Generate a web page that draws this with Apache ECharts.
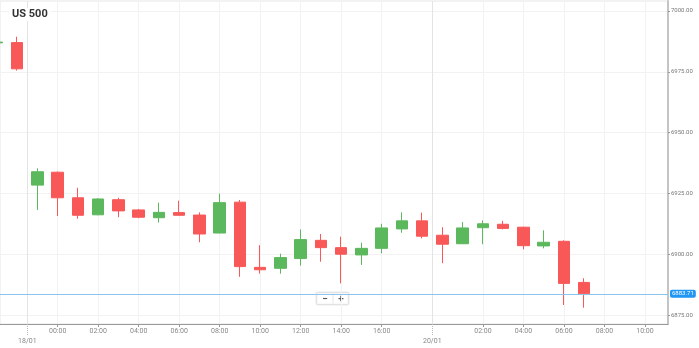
<!DOCTYPE html>
<html><head><meta charset="utf-8">
<script src="https://cdn.jsdelivr.net/npm/echarts@6/dist/echarts.min.js"></script>
<style>html,body{margin:0;padding:0;background:#fff}#c{width:699px;height:348px}</style>
</head><body><div id="c"></div>
<script>
const chartTitle = 'US 500';
// hour label of each slot (slot index = x position)
const times = ['21:00','22:00','23:00','00:00','01:00','02:00','03:00','04:00','05:00','06:00','07:00','08:00','09:00','10:00','11:00','12:00','13:00','14:00','15:00','16:00','17:00','23:00','00:00','01:00','02:00','03:00','04:00','05:00','06:00','07:00','08:00','09:00','10:00'];
const labelIdx = [3,5,7,9,11,13,15,17,19,24,26,28,30,32];
const dates = ['18/01','20/01'];
const dateIdx = [1.5, 21.5];
const yTicks = [6875, 6900, 6925, 6950, 6975, 7000];
const open  = [6986.9,6987.0,6928.4,6933.7,6923.2,6916.2,6922.4,6918.2,6915.0,6917.1,6916.1,6908.7,6921.4,6894.6,6894.2,6898.2,6905.7,6902.7,6899.7,6902.4,6910.4,6913.7,6907.8,6904.3,6910.9,6912.3,6911.1,6903.4,6905.3,6888.4];
const close = [6987.2,6976.2,6933.9,6923.2,6916.0,6922.7,6917.8,6915.2,6917.2,6916.0,6908.3,6921.2,6894.9,6893.6,6898.6,6906.0,6902.7,6900.0,6902.4,6910.8,6913.7,6907.4,6904.1,6910.8,6912.5,6910.6,6903.5,6904.9,6888.0,6883.71];
const low   = [6986.5,6975.5,6918.2,6915.7,6914.6,6916.0,6915.2,6914.8,6913.0,6915.9,6904.9,6908.6,6890.7,6892.0,6892.0,6895.3,6896.9,6888.0,6895.6,6900.4,6908.8,6906.5,6896.3,6904.2,6904.1,6910.2,6902.0,6902.4,6879.1,6878.0];
const high  = [6987.6,6989.4,6935.3,6934.0,6927.3,6923.0,6923.2,6918.6,6921.2,6922.0,6917.2,6924.9,6922.3,6903.7,6900.2,6910.2,6908.3,6907.2,6904.7,6912.5,6917.2,6917.1,6911.1,6913.2,6913.9,6913.7,6911.3,6909.8,6905.7,6890.1];
const lastPrice = close[close.length - 1];

const candles = open.map((o, i) => [i, o, close[i], low[i], high[i]]);
const UP = '#5cb85c', DOWN = '#f85858';
const FONT = 'Roboto';

const chart = echarts.init(document.getElementById('c'), null, {renderer: 'canvas'});
chart.setOption({
  animation: false,
  backgroundColor: '#fff',
  title: {
    text: chartTitle, left: 9, top: 8, padding: [1, 3],
    backgroundColor: '#fff',
    textStyle: {fontFamily: FONT, fontSize: 11, fontWeight: 'bold', color: '#333'}
  },
  grid: {left: 0, right: 31, top: 1, bottom: 24, show: true, borderColor: '#e6e6e6', borderWidth: 1},
  xAxis: [{
    type: 'value', min: 0.15, max: 33.14,
    axisLine: {show: true, lineStyle: {color: '#999', width: 1}},
    axisTick: {show: true, length: 3, customValues: labelIdx, lineStyle: {color: '#999'}},
    axisLabel: {customValues: labelIdx, formatter: v => times[Math.round(v)], fontFamily: FONT, fontSize: 7, color: '#888', margin: 4},
    splitLine: {show: true, lineStyle: {color: '#f2f2f2'}}
  }, {
    type: 'value', min: 0.15, max: 33.14, position: 'bottom',
    axisLine: {show: false},
    axisTick: {show: true, length: 11, customValues: dateIdx, lineStyle: {color: '#bbb', type: [1, 1]}},
    axisLabel: {customValues: dateIdx, formatter: v => dates[dateIdx.indexOf(v)], fontFamily: FONT, fontSize: 7, color: '#888', margin: 14},
    splitLine: {show: true, lineStyle: {color: '#e4e4e4'}}
  }],
  yAxis: {
    type: 'value', position: 'right', min: 6871.3, max: 7004.1, scale: true,
    axisLine: {show: true, lineStyle: {color: '#c4c4c4', width: 2}},
    axisTick: {show: true, length: 2, customValues: yTicks, lineStyle: {color: '#999'}},
    axisLabel: {customValues: yTicks, formatter: v => v.toFixed(2), fontFamily: FONT, fontSize: 6, color: '#777', margin: 3},
    splitLine: {show: true, lineStyle: {color: '#f2f2f2'}}
  },
  series: [{
    type: 'candlestick',
    xAxisIndex: 0,
    data: candles,
    encode: {x: 0, y: [1, 2, 3, 4]},
    barWidth: 12,
    clip: true,
    itemStyle: {color: UP, color0: DOWN, borderColor: UP, borderColor0: DOWN, borderWidth: 1},
    markLine: {
      silent: true, symbol: 'none', animation: false,
      lineStyle: {color: '#8cc4f0', width: 1, type: 'solid'},
      label: {
        show: true, position: 'end', distance: 2,
        formatter: () => lastPrice.toFixed(2),
        backgroundColor: '#2196f3', color: '#fff', fontFamily: FONT, fontSize: 6,
        padding: [1, 2], borderRadius: 2
      },
      data: [{yAxis: lastPrice}]
    }
  }],
  graphic: [{
    type: 'group', left: 316, top: 291,
    children: [
      {type: 'rect', shape: {x: 0, y: 0, width: 32, height: 12, r: 1}, style: {fill: '#fff', stroke: '#e2e2e2', lineWidth: 1, shadowBlur: 2, shadowColor: 'rgba(0,0,0,0.12)'}},
      {type: 'line', shape: {x1: 16.5, y1: 1, x2: 16.5, y2: 11}, style: {stroke: '#e6e6e6', lineWidth: 1}},
      {type: 'text', style: {x: 8.5, y: 6.5, text: '−', align: 'center', verticalAlign: 'middle', fontFamily: FONT, fontSize: 10, fontWeight: 'bold', fill: '#555'}},
      {type: 'text', style: {x: 24.5, y: 6.5, text: '+', align: 'center', verticalAlign: 'middle', fontFamily: FONT, fontSize: 10, fontWeight: 'bold', fill: '#555'}}
    ]
  }]
});
</script>
</body></html>
